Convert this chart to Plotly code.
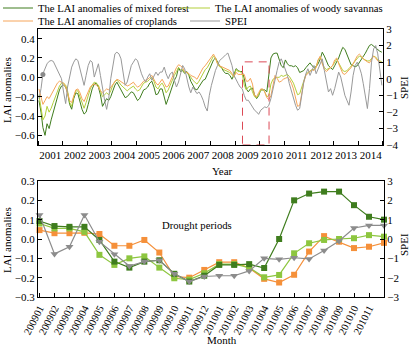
import plotly.graph_objects as go
import pandas as pd

# ---------------- data: top panel (monthly, 2001-01 .. 2014-12) ----------------
month_dates = pd.date_range("2001-01-01", periods=168, freq="MS") + pd.Timedelta(days=14)

mixed_forest = [
    -0.24, -0.36, -0.52, -0.60, -0.48, -0.53, -0.44, -0.36, -0.28, -0.20, -0.13, -0.09,
    -0.08, -0.10, -0.16, -0.28, -0.33, -0.22, -0.16, -0.17, -0.26, -0.33, -0.38, -0.36,
    -0.28, -0.18, -0.12, -0.07, -0.06, -0.10, -0.18, -0.30, -0.26, -0.22, -0.24, -0.20,
    -0.14, -0.08, -0.05, -0.09, -0.14, -0.18, -0.21, -0.20, -0.17, -0.15, -0.16, -0.20,
    -0.24, -0.22, -0.17, -0.13, -0.12, -0.10, -0.06, -0.04, -0.10, -0.18, -0.17, -0.12,
    -0.12, -0.20, -0.28, -0.22, -0.15, -0.09, -0.03, 0.01, 0.10, 0.06, 0.07, 0.04,
    0.06, 0.02, -0.04, -0.08, -0.12, -0.13, -0.10, -0.06, -0.03, -0.02, 0.03, 0.08,
    0.12, 0.18, 0.20, 0.16, 0.12, 0.10, 0.06, 0.04, 0.04, 0.02, -0.02, 0.03,
    0.09, 0.07, 0.06, 0.06, -0.01, -0.12, -0.15, -0.12, -0.11, -0.18, -0.22, -0.19,
    -0.13, -0.13, -0.13, -0.15, 0.00, 0.20, 0.24, 0.25, 0.25, 0.18, 0.12, 0.10,
    0.18, 0.14, 0.12, 0.12, 0.11, 0.12, 0.10, 0.05, 0.06, 0.07, 0.10, 0.12,
    0.15, 0.12, 0.10, 0.11, 0.14, 0.19, 0.26, 0.22, 0.17, 0.12, 0.10, 0.08,
    0.12, 0.16, 0.20, 0.26, 0.31, 0.29, 0.24, 0.18, 0.13, 0.12, 0.11, 0.12,
    0.15, 0.19, 0.22, 0.25, 0.29, 0.33, 0.34, 0.32, 0.30, 0.29, 0.27, 0.26,
]

woody_savannas = [
    -0.18, -0.32, -0.44, -0.40, -0.30, -0.36, -0.32, -0.26, -0.20, -0.14, -0.09, -0.06,
    -0.06, -0.08, -0.14, -0.26, -0.30, -0.20, -0.14, -0.14, -0.20, -0.28, -0.32, -0.26,
    -0.18, -0.12, -0.08, -0.05, -0.06, -0.08, -0.14, -0.20, -0.18, -0.16, -0.18, -0.14,
    -0.08, -0.04, -0.03, -0.05, -0.08, -0.10, -0.13, -0.14, -0.12, -0.10, -0.09, -0.12,
    -0.14, -0.13, -0.09, -0.06, -0.05, -0.04, -0.02, 0.00, -0.04, -0.10, -0.12, -0.08,
    -0.06, -0.10, -0.16, -0.13, -0.08, -0.02, 0.02, 0.06, 0.10, 0.08, 0.08, 0.05,
    0.05, 0.03, 0.00, -0.03, -0.05, -0.07, -0.04, 0.00, 0.05, 0.08, 0.10, 0.14,
    0.18, 0.22, 0.20, 0.14, 0.11, 0.10, 0.08, 0.07, 0.06, 0.05, 0.03, 0.00,
    0.08, 0.06, 0.06, 0.04, -0.08, -0.13, -0.10, -0.09, -0.15, -0.20, -0.21, -0.18,
    -0.13, -0.13, -0.15, -0.20, -0.19, -0.07, -0.02, -0.01, 0.00, 0.00, 0.02, 0.01,
    0.02, 0.03, 0.01, -0.02, -0.06, -0.12, -0.18, -0.17, -0.10, -0.02, 0.03, 0.05,
    0.07, 0.08, 0.08, 0.11, 0.18, 0.21, 0.15, 0.10, 0.08, 0.09, 0.10, 0.12,
    0.16, 0.19, 0.15, 0.10, 0.07, 0.06, 0.07, 0.09, 0.11, 0.14, 0.17, 0.20,
    0.22, 0.21, 0.19, 0.18, 0.17, 0.17, 0.19, 0.22, 0.21, 0.18, 0.17, 0.16,
]

croplands = [
    -0.12, -0.22, -0.28, -0.24, -0.20, -0.22, -0.18, -0.14, -0.10, -0.06, -0.04, -0.05,
    -0.06, -0.10, -0.16, -0.24, -0.26, -0.18, -0.13, -0.12, -0.16, -0.22, -0.25, -0.20,
    -0.14, -0.10, -0.08, -0.07, -0.08, -0.10, -0.14, -0.16, -0.14, -0.12, -0.13, -0.10,
    -0.07, -0.04, -0.02, -0.03, -0.05, -0.06, -0.07, -0.09, -0.08, -0.06, -0.05, -0.08,
    -0.10, -0.09, -0.06, -0.04, -0.03, -0.02, 0.00, 0.02, -0.02, -0.06, -0.08, -0.05,
    -0.02, -0.06, -0.10, -0.09, -0.04, 0.01, 0.05, 0.10, 0.13, 0.12, 0.10, 0.06,
    0.05, 0.04, 0.02, 0.01, 0.00, -0.02, 0.02, 0.06, 0.10, 0.12, 0.15, 0.19,
    0.22, 0.24, 0.20, 0.14, 0.12, 0.11, 0.10, 0.09, 0.08, 0.07, 0.04, 0.01,
    0.05, 0.03, 0.03, 0.03, 0.03, -0.04, -0.04, -0.01, -0.07, -0.19, -0.20, -0.16,
    -0.12, -0.12, -0.15, -0.21, -0.23, -0.19, -0.07, 0.02, -0.01, -0.05, -0.04, -0.02,
    -0.01, 0.00, -0.02, -0.06, -0.12, -0.22, -0.30, -0.29, -0.18, -0.05, 0.02, 0.04,
    0.06, 0.08, 0.07, 0.10, 0.18, 0.22, 0.14, 0.08, 0.06, 0.08, 0.10, 0.12,
    0.18, 0.20, 0.14, 0.08, 0.04, 0.03, 0.05, 0.08, 0.10, 0.14, 0.18, 0.22,
    0.24, 0.22, 0.19, 0.17, 0.16, 0.15, 0.18, 0.22, 0.20, 0.17, 0.16, 0.15,
]

spei = [
    -1.2, -0.6, 0.3, 0.6, 0.9, 1.05, 1.1, 1.05, 0.8, 0.5, 0.3, 0.0,
    -0.8, -1.5, -0.5, 0.2, 0.7, 1.0, 1.2, 1.1, 0.6, 0.0, -0.4, 0.2,
    0.8, 1.1, 1.0, 0.1, 0.5, 0.9, 0.2, -0.6, -1.3, -1.85, -1.2, 0.0,
    0.9, 1.5, 1.6, 1.5, 1.2, 0.4, -0.4, -0.2, 0.4, 0.8, 1.0, 1.2,
    1.1, 0.6, 0.3, 0.0, -0.2, 0.1, 0.3, -0.1, 0.2, 0.4, 0.2, 0.4,
    0.4, 0.7, 0.3, 0.0, 0.3, 0.4, -0.1, -0.5, -0.2, 0.3, 0.8, 0.6,
    0.0, -0.5, -0.85, -0.5, -0.7, -0.9, -0.8, -1.0, -1.3, -1.7, -1.95, -1.0,
    -0.4, 0.1, 0.5, 0.8, 1.1, 1.2, 1.35, 1.45, 1.55, 1.2, 0.8, 0.2,
    -0.1, -0.3, -0.5, -0.6, -1.0, -1.3, -1.3, -1.5, -1.65, -1.9, -2.0, -2.15,
    -1.9, -1.8, -1.7, -1.75, -1.6, -1.2, -0.6, 0.1, 0.5, 1.0, 1.2, 0.9,
    0.6, 0.2, -0.3, -0.8, -1.2, -1.6, -1.9, -1.8, -1.0, -0.2, 0.3, 0.6,
    0.2, 0.5, 0.8, 0.3, 0.6, 1.0, 1.2, 0.5, -0.3, -0.8, -0.6, -1.0,
    -0.6, -0.1, 0.4, 0.1, -0.5, -1.0, -1.3, -1.6, -0.8, 0.2, 0.8, 1.0,
    0.7, 0.3, -0.3, -1.0, -1.8, -0.6, 1.0, 1.8, 2.0, 1.5, 0.5, -0.4,
]

spei_dot_date = ["2001-03-15"]
spei_dot_value = [0.25]

drought_top = ["2009-04-20", "2010-05-18"]
drought_top_lai_level = 0.16

# ---------------- data: bottom panel (2009-01 .. 2010-12) ----------------
months = ["200901", "200902", "200903", "200904", "200905", "200906", "200907", "200908",
          "200909", "200910", "200911", "200912", "201001", "201002", "201003", "201004",
          "201005", "201006", "201007", "201008", "201009", "201010", "201011", "201012"]
month_tick_labels = months[:23]

mf_2009_2010 = [0.093, 0.067, 0.063, 0.063, -0.005, -0.117, -0.148, -0.117,
                -0.110, -0.180, -0.220, -0.190, -0.134, -0.134, -0.130, -0.150,
                0.000, 0.200, 0.235, 0.245, 0.245, 0.175, 0.115, 0.100]
ws_2009_2010 = [0.080, 0.055, 0.055, 0.037, -0.082, -0.134, -0.100, -0.090,
                -0.148, -0.203, -0.210, -0.177, -0.130, -0.130, -0.148, -0.198,
                -0.186, -0.074, -0.022, -0.005, 0.000, 0.004, 0.020, 0.012]
cr_2009_2010 = [0.046, 0.030, 0.030, 0.032, 0.026, -0.035, -0.035, -0.005,
                -0.070, -0.194, -0.200, -0.160, -0.120, -0.120, -0.150, -0.206,
                -0.225, -0.185, -0.065, 0.015, -0.014, -0.047, -0.040, -0.020]
spei_2009_2010 = [1.24, -0.77, -0.40, 1.24, -0.14, -0.79, -1.40, -1.17,
                  -1.10, -1.80, -2.20, -1.94, -1.90, -1.90, -1.65, -1.00,
                  -1.05, -0.97, -1.03, -0.60, -0.10, 0.57, 0.70, 0.70]

drought_start, drought_end = "200906", "201005"
drought_level = 0.02

# ---------------- style ----------------
C_MF = "#3f7d1e"
C_WS = "#8dc63f"
C_CR = "#f5903a"
C_SP = "#999999"
C_RED = "#dc4a56"
FONT = "Liberation Serif"

fig = go.Figure()

# top panel lines
fig.add_trace(go.Scatter(x=month_dates, y=mixed_forest, mode="lines", xaxis="x", yaxis="y",
                         line=dict(color=C_MF, width=1), name="The LAI anomalies of mixed forest",
                         legend="legend"))
fig.add_trace(go.Scatter(x=month_dates, y=woody_savannas, mode="lines", xaxis="x", yaxis="y",
                         line=dict(color="#b3cf3a", width=1), name="The LAI anomalies of woody savannas",
                         legend="legend2"))
fig.add_trace(go.Scatter(x=month_dates, y=croplands, mode="lines", xaxis="x", yaxis="y",
                         line=dict(color="#f6a55a", width=1), name="The LAI anomalies of croplands",
                         legend="legend3"))
fig.add_trace(go.Scatter(x=month_dates, y=spei, mode="lines", xaxis="x", yaxis="y2",
                         line=dict(color=C_SP, width=1), name="SPEI", legend="legend4"))
fig.add_trace(go.Scatter(x=spei_dot_date, y=spei_dot_value, mode="markers", xaxis="x", yaxis="y2",
                         marker=dict(color="#8a8a8a", size=5), showlegend=False))

# bottom panel
fig.add_trace(go.Scatter(x=months, y=cr_2009_2010, mode="lines+markers", xaxis="x2", yaxis="y3",
                         line=dict(color=C_CR, width=1.2), marker=dict(symbol="square", size=6, color=C_CR),
                         showlegend=False, cliponaxis=False))
fig.add_trace(go.Scatter(x=months, y=ws_2009_2010, mode="lines+markers", xaxis="x2", yaxis="y3",
                         line=dict(color=C_WS, width=1.2), marker=dict(symbol="square", size=6, color=C_WS),
                         showlegend=False, cliponaxis=False))
fig.add_trace(go.Scatter(x=months, y=mf_2009_2010, mode="lines+markers", xaxis="x2", yaxis="y3",
                         line=dict(color=C_MF, width=1.2), marker=dict(symbol="square", size=6, color=C_MF),
                         showlegend=False, cliponaxis=False))
fig.add_trace(go.Scatter(x=months, y=spei_2009_2010, mode="lines+markers", xaxis="x2", yaxis="y4",
                         line=dict(color="#8c8c8c", width=1.2),
                         marker=dict(symbol="triangle-down", size=7, color="#8c8c8c"),
                         showlegend=False, cliponaxis=False))

tickfont = dict(family=FONT, size=11, color="black")
common = dict(showgrid=False, zeroline=False, showline=True, linecolor="black", linewidth=1,
              ticks="inside", ticklen=4, tickcolor="black", tickfont=tickfont, automargin=False)
common_bx = dict(common, tickfont=dict(family=FONT, size=10.5, color="black"))


def legend_box(xpx, ypx):
    return dict(orientation="h", x=xpx / 414, xanchor="left", y=1 - ypx / 346, yanchor="middle",
                font=dict(family=FONT, size=10.7, color="black"), bgcolor="rgba(0,0,0,0)",
                borderwidth=0, itemwidth=30)


fig.update_layout(
    width=414, height=346, margin=dict(l=0, r=0, t=0, b=0, autoexpand=False),
    paper_bgcolor="white", plot_bgcolor="white",
    font=dict(family=FONT, size=11, color="black"),
    xaxis=dict(domain=[0.0918, 0.9251], anchor="y", type="date",
               range=["2001-01-01", "2015-01-01"], dtick="M12", tick0="2001-01-01",
               tickformat="%Y", ticklabelmode="period", tickangle=0, mirror=True, **common),
    yaxis=dict(domain=[0.5809, 0.9162], anchor="x", range=[-0.7, 0.5],
               tickvals=[-0.6, -0.4, -0.2, 0.0, 0.2, 0.4], tickformat=".1f", **common),
    yaxis2=dict(overlaying="y", anchor="x", side="right", range=[-4, 3], dtick=1, **common),
    xaxis2=dict(domain=[0.0918, 0.9275], anchor="y3", type="category",
                categoryorder="array", categoryarray=months, range=[-0.1, 23.0],
                tickmode="array", tickvals=month_tick_labels, ticktext=month_tick_labels,
                tickangle=-63, mirror=True, **common_bx),
    yaxis3=dict(domain=[0.1416, 0.4769], anchor="x2", range=[-0.3, 0.3], dtick=0.1,
                tickformat=".1f", **common),
    yaxis4=dict(overlaying="y3", anchor="x2", side="right", range=[-3, 3], dtick=1, **common),
    legend=legend_box(-2, 8),
    legend2=legend_box(175, 8),
    legend3=legend_box(-2, 21),
    legend4=legend_box(185, 21),
    showlegend=True,
)

# drought boxes
fig.add_shape(type="rect", xref="x", yref="y", x0=drought_top[0], x1=drought_top[1],
              y0=-0.7, y1=drought_top_lai_level, line=dict(color=C_RED, width=1, dash="8px,6px"),
              layer="above")
fig.add_shape(type="rect", xref="x2", yref="y3", x0=drought_start, x1=drought_end,
              y0=-0.3, y1=drought_level, line=dict(color=C_RED, width=1, dash="8px,6px"),
              layer="above")

ann_font = dict(family=FONT, size=11, color="black")
fig.add_annotation(text="Drought periods", x=10.5, y=0.075, xref="x2", yref="y3",
                   xanchor="center", yanchor="middle", showarrow=False,
                   font=dict(family=FONT, size=10.7, color="black"))
# arrows from top-panel drought box to bottom panel
fig.add_annotation(text="", x=drought_start, y=drought_level, xref="x2", yref="y3",
                   ax=129, ay=-92, axref="pixel", ayref="pixel", showarrow=True,
                   arrowhead=2, arrowsize=1, arrowwidth=0.8, arrowcolor="black")
fig.add_annotation(text="", x=drought_end, y=0.03, xref="x2", yref="y3",
                   ax=-9, ay=-87, axref="pixel", ayref="pixel", showarrow=True,
                   arrowhead=2, arrowsize=1, arrowwidth=0.8, arrowcolor="black")


def paper_label(text, xpx, ypx, angle=0):
    fig.add_annotation(text=text, x=xpx / 414, y=1 - ypx / 346, xref="paper", yref="paper",
                       xanchor="center", yanchor="middle", showarrow=False,
                       textangle=angle, font=ann_font)


paper_label("Year", 222, 171)
paper_label("Month", 222, 339.5)
paper_label("LAI anomalies", 7, 90, -90)
paper_label("LAI anomalies", 7, 240, -90)
paper_label("SPEI", 404, 88, -90)
paper_label("SPEI", 404, 245, -90)

fig.write_html("out.html")
